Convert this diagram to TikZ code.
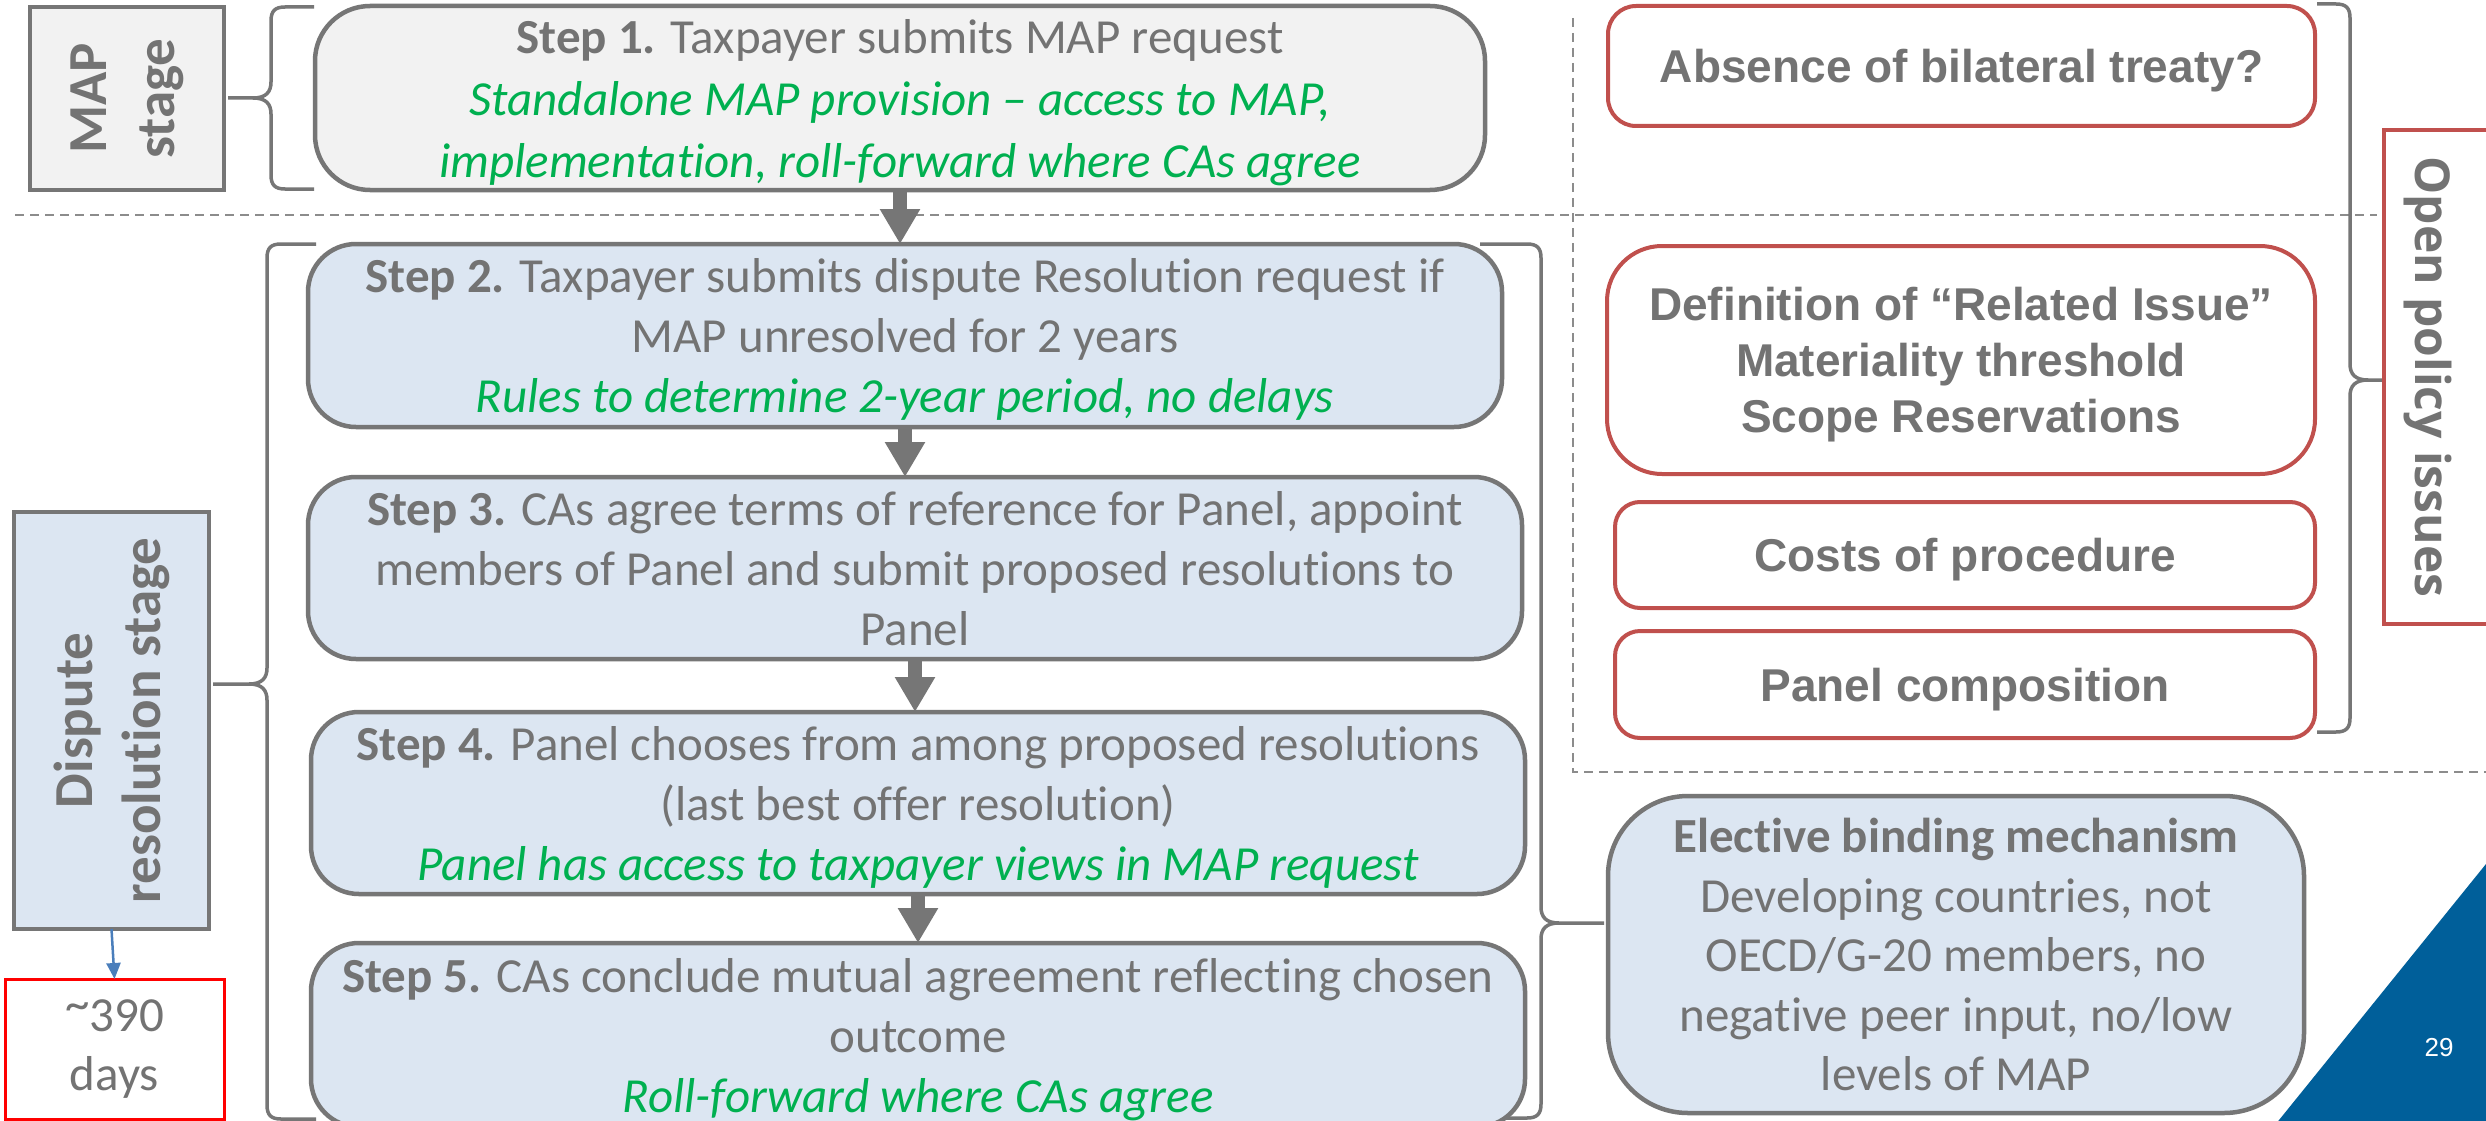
\documentclass[tikz,border=0pt]{standalone}
\usepackage{fontspec}
\setmainfont{Carlito}[RawFeature={-liga,-clig,-calt}]
\newfontfamily\arialf{Liberation Sans}
\newfontfamily\opensansf{Open Sans}
\usetikzlibrary{arrows.meta}
\definecolor{txtgray}{HTML}{737373}
\definecolor{bordgray}{HTML}{767676}
\definecolor{fillblue}{HTML}{DCE6F2}
\definecolor{fillgray}{HTML}{F2F2F2}
\definecolor{greenc}{HTML}{00B050}
\definecolor{redc}{HTML}{C0504D}
\definecolor{brightred}{HTML}{FF0000}
\definecolor{dashgray}{HTML}{8C8C8C}
\definecolor{oecdblue}{HTML}{005F9A}
\definecolor{arrowblue}{HTML}{4A7EBB}
\newcommand\greenit[1]{{\color{greenc}\itshape #1}}
% xv, xtip, xend, ytop, ybot, ytip, dir
\newcommand\bracepath[7]{%
  \draw[bracestyle] ({#3},{#4}) -- ({#1+(#7)*14},{#4}) .. controls ({#1+(#7)*4},{#4}) and ({#1},{#4+4}) .. ({#1},{#4+14})
    -- ({#1},{#6-16}) .. controls ({#1},{#6-6}) and ({#1-(#7)*5},{#6}) .. ({#1-(#7)*18},{#6}) -- ({#2},{#6})
    ({#1-(#7)*18},{#6}) .. controls ({#1-(#7)*5},{#6}) and ({#1},{#6+6}) .. ({#1},{#6+16})
    -- ({#1},{#5-14}) .. controls ({#1},{#5-4}) and ({#1+(#7)*4},{#5}) .. ({#1+(#7)*14},{#5}) -- ({#3},{#5});
}
\begin{document}
\begin{tikzpicture}[x=1pt,y=-1pt,
  every node/.style={inner sep=0pt, outer sep=0pt},
  bluebox/.style={draw=bordgray, line width=4.5pt, fill=fillblue, rounded corners=48pt, text=txtgray, align=center, font=\fontsize{49}{60}\selectfont},
  stepbox/.style={bluebox, text depth=0pt},
  redbox/.style={draw=redc, line width=4pt, fill=white, text=txtgray, align=center, text depth=0pt, font=\arialf\bfseries\fontsize{46}{56}\selectfont},
  stagebox/.style={draw=bordgray, line width=3.5pt, fill=fillblue},
  stagetext/.style={rotate=90, text=txtgray, align=center, font=\bfseries\fontsize{55}{68}\selectfont},
  bracestyle/.style={draw=bordgray, line width=3.5pt},
  dashline/.style={draw=dashgray, line width=2pt, dash pattern=on 9pt off 6pt},
  steparrow/.style={draw=bordgray, line width=14pt, -{Triangle[width=38pt,length=35pt]}}
]
\useasboundingbox (0,0) rectangle (2486,1121);
\fill[white] (0,0) rectangle (2486,1121);

% dashed separators
\draw[dashline] (15,215) -- (2377,215);
\draw[dashline] (1573,18) -- (1573,772) -- (2490,772);

% braces
\bracepath{271}{228}{314}{7}{189}{98}{1}
\bracepath{267}{213}{316}{244}{1119}{684}{1}
\bracepath{1541}{1604}{1480}{244}{1118}{923}{-1}
\bracepath{2350}{2384}{2317}{4}{732}{380}{-1}

% stage boxes
\node[stagebox, fill=fillgray, minimum width=194pt, minimum height=183pt] (mapst) at (127,98.5) {};
\node[stagetext] (maptext) at (127,98.5) {MAP\\stage};
\node[stagebox, minimum width=195pt, minimum height=417pt] (disp) at (111.5,720.5) {};
\node[stagetext] (disptext) at (111.5,720.5) {Dispute\\resolution stage};
\node[draw=brightred, line width=3pt, fill=white, minimum width=219pt, minimum height=140pt, text=txtgray, align=center, font=\fontsize{49}{59}\selectfont] (days) at (114.5,1049) {\raisebox{0.22em}{\textasciitilde}390\\days};
\draw[arrowblue, line width=2.5pt, -{Triangle[width=14pt,length=16pt]}] (disp.south) -- (days.north);

% steps
\node[stepbox, fill=fillgray, minimum width=1170pt, minimum height=184pt, rounded corners=55pt, font=\fontsize{49}{62}\selectfont] (s1) at (900,98) {{\bfseries Step 1.} Taxpayer submits MAP request\\\greenit{Standalone MAP provision – access to MAP,}\\\greenit{implementation, roll-forward where CAs agree}};
\node[stepbox, minimum width=1194pt, minimum height=183pt] (s2) at (905,335.5) {{\bfseries Step 2.} Taxpayer submits dispute Resolution request if\\MAP unresolved for 2 years\\\greenit{Rules to determine 2-year period, no delays}};
\node[stepbox, minimum width=1214pt, minimum height=182pt] (s3) at (915,568) {{\bfseries Step 3.} CAs agree terms of reference for Panel, appoint\\members of Panel and submit proposed resolutions to\\Panel};
\node[stepbox, minimum width=1214pt, minimum height=182pt] (s4) at (918,803) {{\bfseries Step 4.} Panel chooses from among proposed resolutions\\(last best offer resolution)\\\greenit{Panel has access to taxpayer views in MAP request}};
\node[stepbox, minimum width=1214pt, minimum height=184pt] (s5) at (918,1035) {{\bfseries Step 5.} CAs conclude mutual agreement reflecting chosen\\outcome\\\greenit{Roll-forward where CAs agree}};

\draw[steparrow] (s1.south) -- (s1.south |- s2.north);
\draw[steparrow] (s2.south) -- (s2.south |- s3.north);
\draw[steparrow] (s3.south) -- (s3.south |- s4.north);
\draw[steparrow] (s4.south) -- (s4.south |- s5.north);

% elective
\node[bluebox, minimum width=696pt, minimum height=317pt, rounded corners=80pt, font=\fontsize{49}{59.5}\selectfont] (elect) at (1956,954.5) {{\bfseries Elective binding mechanism}\\Developing countries, not\\OECD/G-20 members, no\\negative peer input, no/low\\levels of MAP};

% open issues
\node[redbox, minimum width=707pt, minimum height=120pt, rounded corners=28pt] (r1) at (1961.5,66) {Absence of bilateral treaty?};
\node[redbox, minimum width=708pt, minimum height=228pt, rounded corners=55pt] (r2) at (1961,360) {Definition of “Related Issue”\\Materiality threshold\\Scope Reservations};
\node[redbox, minimum width=700pt, minimum height=106pt, rounded corners=25pt] (r3) at (1965,555) {Costs of procedure};
\node[redbox, minimum width=700pt, minimum height=107pt, rounded corners=25pt] (r4) at (1965,684.5) {Panel composition};
\node[draw=redc, line width=4pt, fill=white, minimum width=116pt, minimum height=494pt] (opbox) at (2442,377) {};
\node[rotate=-90, text=txtgray, font=\opensansf\bfseries\fontsize{48}{58}\selectfont] (optext) at (2428,377) {Open policy issues};

% corner triangle
\fill[oecdblue] (2490,859) -- (2275,1125) -- (2490,1125) -- cycle;
\node[text=white, font=\arialf\fontsize{26}{30}\selectfont] (pagenum) at (2439,1048) {29};
\end{tikzpicture}
\end{document}
